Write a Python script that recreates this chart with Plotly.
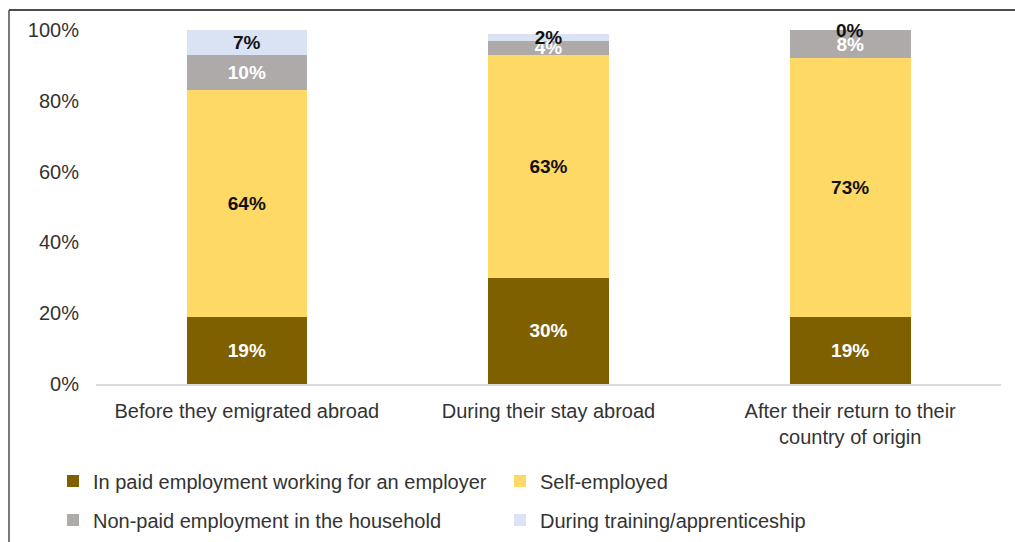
import plotly.graph_objects as go

categories = ["Before they emigrated abroad", "During their stay abroad",
              "After their return to their<br>country of origin"]
paid = [19, 30, 19]
self_employed = [64, 63, 73]
non_paid = [10, 4, 8]
training = [7, 2, 0]
y_ticks = [0, 20, 40, 60, 80, 100]
y_tick_labels = ["0%", "20%", "40%", "60%", "80%", "100%"]

FONT = "Liberation Sans, Arial, sans-serif"
FS = 20
LFS = 19

series = [
    ("In paid employment working for an employer", paid, "#7F6000", "white", "legend"),
    ("Self-employed", self_employed, "#FFD966", "#111111", "legend"),
    ("Non-paid employment in the household", non_paid, "#AEAAAA", "white", "legend2"),
    ("During training/apprenticeship", training, "#DAE3F3", "#111111", "legend2"),
]

fig = go.Figure()
for name, vals, color, tcolor, leg in series:
    fig.add_trace(go.Bar(
        name=name, x=categories, y=vals, width=0.4,
        marker=dict(color=color, line=dict(width=0)),
        text=[f"{v}%" for v in vals], textposition="inside",
        insidetextanchor="middle", constraintext="none",
        textfont=dict(family=FONT, size=LFS, color=tcolor, weight="bold"),
        legend=leg,
    ))

# labels for zero-height segments (not drawn by the bar trace itself)
for i, v in enumerate(training):
    if v == 0:
        total = paid[i] + self_employed[i] + non_paid[i] + training[i]
        fig.add_annotation(x=categories[i], y=total, text=f"{v}%", showarrow=False,
                           yanchor="middle",
                           font=dict(family=FONT, size=LFS, color="#111111", weight="bold"))

W, H = 1015, 542
L, R, T, B = 96, 14, 30, 158
pw, ph = W - L - R, H - T - B

def px(x):
    return (x - L) / pw

def py(y):
    return (H - B - y) / ph

fig.update_layout(
    width=W, height=H, barmode="stack",
    margin=dict(l=L, r=R, t=T, b=B, autoexpand=False),
    paper_bgcolor="white", plot_bgcolor="white",
    font=dict(family=FONT, size=FS, color="#333333"),
    uniformtext=dict(mode="show", minsize=LFS),
    xaxis=dict(showline=True, linecolor="#D9D9D9", linewidth=1.5,
               showgrid=False, ticks="", ticklabelstandoff=8,
               tickfont=dict(size=FS, color="#333333")),
    yaxis=dict(range=[0, 100], tickvals=y_ticks, ticktext=y_tick_labels,
               showgrid=False, showline=False, zeroline=False,
               ticklabelstandoff=16, tickfont=dict(size=FS, color="#333333")),
    legend=dict(orientation="h", x=px(53), y=py(481), xanchor="left", yanchor="middle",
                entrywidth=402, entrywidthmode="pixels", traceorder="normal",
                font=dict(size=FS, color="#333333"), bgcolor="rgba(0,0,0,0)"),
    legend2=dict(orientation="h", x=px(53), y=py(520), xanchor="left", yanchor="middle",
                 entrywidth=402, entrywidthmode="pixels", traceorder="normal",
                 font=dict(size=FS, color="#333333"), bgcolor="rgba(0,0,0,0)"),
    shapes=[
        dict(type="line", xref="paper", yref="paper", x0=px(9), x1=px(1015),
             y0=py(10), y1=py(10), line=dict(color="#4D4D4D", width=2)),
        dict(type="line", xref="paper", yref="paper", x0=px(9), x1=px(9),
             y0=py(10), y1=py(542), line=dict(color="#4D4D4D", width=1.5)),
    ],
)

fig.write_html("out.html")
